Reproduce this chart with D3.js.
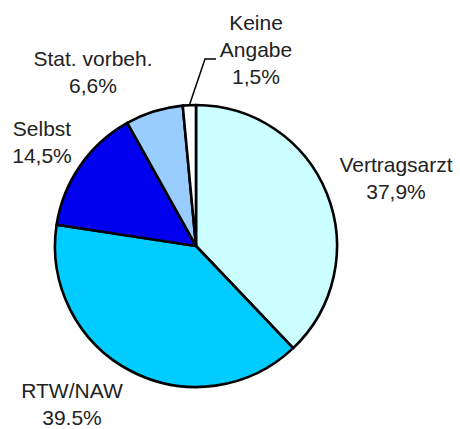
<!DOCTYPE html>
<html>
<head>
<meta charset="utf-8">
<script src="https://cdn.jsdelivr.net/npm/d3@7/dist/d3.min.js"></script>
<style>
html,body{margin:0;padding:0;background:#fff;}
svg{display:block;}
text{font-family:"Liberation Sans",Arial,sans-serif;font-size:21px;fill:#222;}
</style>
</head>
<body>
<svg id="chart" width="460" height="429"></svg>
<script>
const categories = ["Vertragsarzt", "RTW/NAW", "Selbst", "Stat. vorbeh.", "Keine Angabe"];
const values = [37.9, 39.5, 14.5, 6.6, 1.5];
const valueLabels = ["37,9%", "39.5%", "14,5%", "6,6%", "1,5%"];
const labelLines = [["Vertragsarzt"], ["RTW/NAW"], ["Selbst"], ["Stat. vorbeh."], ["Keine", "Angabe"]];
const colors = ["#ccffff", "#00ccff", "#0000ee", "#99ccff", "#ffffff"];

const svg = d3.select("#chart");
const cx = 196, cy = 246, r = 141;
const g = svg.append("g").attr("transform", `translate(${cx},${cy})`);

const pie = d3.pie().sort(null).value(d => d).startAngle(0).endAngle(2 * Math.PI);
const arcs = pie(values);
const arc = d3.arc().innerRadius(0).outerRadius(r);

g.selectAll("path.slice").data(arcs).enter().append("path")
  .attr("class", "slice")
  .attr("d", arc)
  .attr("fill", (d, i) => colors[i])
  .attr("stroke", "#000")
  .attr("stroke-width", 2.6)
  .attr("stroke-linejoin", "round");

// label anchor positions (absolute)
const labelPos = [
  {x: 396, y: 172},
  {x: 72, y: 398},
  {x: 42, y: 136},
  {x: 93, y: 66},
  {x: 256, y: 30}
];
const lineH = 27;

labelPos.forEach((p, i) => {
  const lines = labelLines[i].concat([valueLabels[i]]);
  const t = svg.append("text").attr("text-anchor", "middle");
  lines.forEach((s, j) => {
    t.append("tspan").attr("x", p.x).attr("y", p.y + j * lineH).text(s);
  });
});

// leader line for "Keine Angabe"
const a = arcs[4];
const mid = (a.startAngle + a.endAngle) / 2;
const px = cx + r * Math.sin(mid), py = cy - r * Math.cos(mid);
svg.append("polyline")
  .attr("points", `${px},${py} 205,59 216,59`)
  .attr("fill", "none")
  .attr("stroke", "#000")
  .attr("stroke-width", 1.5);
</script>
</body>
</html>
